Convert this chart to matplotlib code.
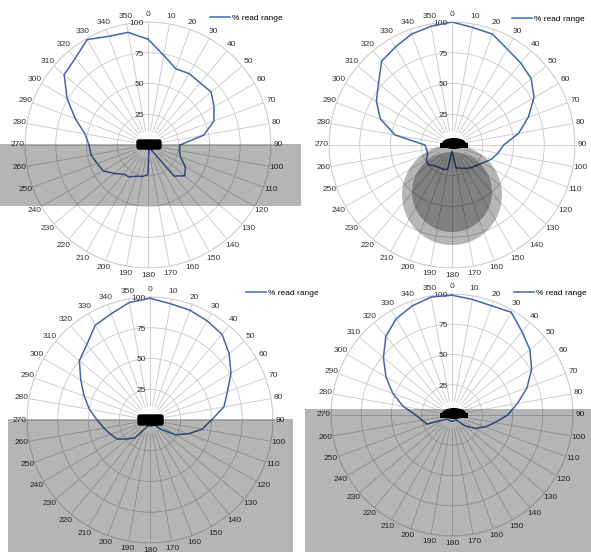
import numpy as np
import matplotlib.pyplot as plt
from matplotlib.patches import Rectangle, Circle, Ellipse, FancyBboxPatch

plt.rcParams['font.family'] = ['Liberation Sans Narrow', 'Liberation Sans', 'DejaVu Sans']

W, H = 591, 552

angles = list(range(0, 360, 10))
angle_labels = [str(a) for a in angles]
ring_values = [25, 50, 75, 100]
series_name = "% read range"

# % read range, one value per 10 degrees (0..350)
read_tl = [86, 74, 66, 67, 66, 67, 62, 57, 46, 26, 26, 28, 35, 39, 33, 3, 3, 4,
           24, 26, 27, 30, 31, 36, 42, 44, 47, 48, 52, 63, 76, 89, 92, 99, 94, 93]
read_tr = [100, 97, 96, 90, 87, 84, 77, 66, 55, 42, 38, 34, 29, 26, 24, 22, 20, 19,
           5, 20, 21, 21, 22, 25, 24, 21, 21, 22, 47, 62, 71, 78, 89, 92, 96, 98]
read_bl = [99, 96, 95, 93, 91, 84, 76, 67, 61, 50, 43, 33, 24, 12, 5, 5, 5, 5,
           5, 5, 5, 8, 19, 24, 31, 34, 38, 43, 50, 57, 65, 75, 80, 89, 92, 97]
read_br = [99, 97, 96, 98, 90, 84, 76, 66, 55, 46, 36, 29, 22, 14, 5, 5, 5, 5,
           5, 5, 5, 5, 5, 5, 8, 22, 25, 30, 41, 52, 63, 74, 85, 92, 96, 99]

fig = plt.figure(figsize=(W / 100, H / 100), dpi=100)

# overlay in pixel coordinates for the shaded zones and the reader
ov = fig.add_axes([0, 0, 1, 1], zorder=10)
ov.set_xlim(0, W)
ov.set_ylim(H, 0)
ov.axis('off')
ov.patch.set_alpha(0)

shade = dict(color='black', alpha=0.29, lw=0)


def polar_panel(cx, cy, R, values, legend_xy):
    ax = fig.add_axes([(cx - R) / W, 1 - (cy + R) / H, 2 * R / W, 2 * R / H],
                      projection='polar', zorder=1)
    ax.set_theta_zero_location('N')
    ax.set_theta_direction(-1)
    ax.set_ylim(0, 100)
    ax.set_thetagrids(angles, angle_labels, fontsize=6, color='#333333')
    ax.tick_params(axis='x', pad=-5)
    ax.set_rticks(ring_values)
    ax.set_yticklabels([])
    ax.grid(color='#c8c8c8', lw=0.6)
    ax.spines['polar'].set_color('#c8c8c8')
    ax.spines['polar'].set_linewidth(0.6)
    for v in ring_values:
        ax.annotate(str(v), xy=(0, v), xytext=(-3, -1), textcoords='offset points',
                    ha='right', va='center', fontsize=6, color='#333333')
    # white glow around the reader
    t = np.linspace(0, 2 * np.pi, 100)
    ax.fill(t, np.full_like(t, 11), color='white', alpha=0.85, lw=0, zorder=1.8)
    th = np.deg2rad(angles + [angles[0]])
    ax.plot(th, values + [values[0]], color='#4166ab', lw=1.1, label=series_name,
            zorder=3)
    ax.legend(loc='center left', bbox_to_anchor=(legend_xy[0] / W, 1 - legend_xy[1] / H),
              bbox_transform=fig.transFigure, frameon=False, fontsize=6,
              handlelength=2.4, handletextpad=0.2, borderpad=0, borderaxespad=0)
    return ax


polar_panel(148, 145, 123, read_tl, (210, 18))
polar_panel(452, 145, 123, read_tr, (512, 19))
polar_panel(150, 420, 123, read_bl, (246, 293))
polar_panel(452, 415, 121, read_br, (514, 293))

# shaded zones
ov.add_patch(Rectangle((0, 144), 301, 62, **shade))
ov.add_patch(Circle((452, 195), 50, **shade))
ov.add_patch(Circle((452, 192), 40, **shade))
ov.add_patch(Rectangle((8, 419), 285, 133, **shade))
ov.add_patch(Rectangle((305, 409), 286, 143, **shade))

# reader icons
ov.add_patch(FancyBboxPatch((137, 140), 24, 9, boxstyle='round,pad=0,rounding_size=2',
                            color='black'))
ov.add_patch(FancyBboxPatch((138, 415), 25, 10, boxstyle='round,pad=0,rounding_size=2',
                            color='black'))
ov.add_patch(Rectangle((440, 143), 28, 5, color='black', lw=0))
ov.add_patch(Ellipse((454, 143.5), 24, 11, color='black', lw=0))
ov.add_patch(Rectangle((440, 413), 28, 5, color='black', lw=0))
ov.add_patch(Ellipse((454, 413.5), 24, 11, color='black', lw=0))

fig.savefig('out.png', dpi=100)
